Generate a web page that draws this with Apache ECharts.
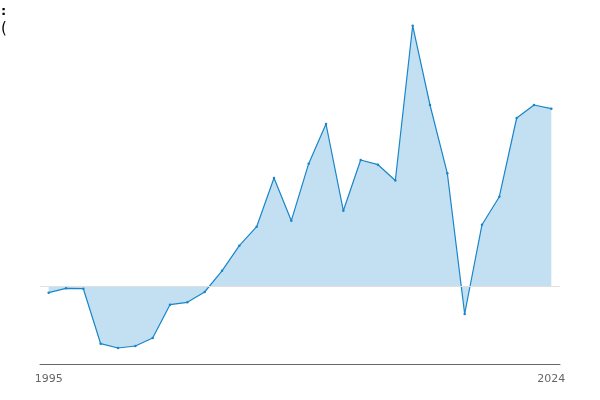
<!DOCTYPE html>
<html>
<head>
<meta charset="utf-8">
<script src="https://cdn.jsdelivr.net/npm/echarts@6/dist/echarts.min.js"></script>
<style>html,body{margin:0;padding:0;background:#fff}#c{width:600px;height:400px}</style>
</head>
<body>
<div id="c"></div>
<script>
var years = ['1995','1996','1997','1998','1999','2000','2001','2002','2003','2004','2005','2006','2007','2008','2009','2010','2011','2012','2013','2014','2015','2016','2017','2018','2019','2020','2021','2022','2023','2024'];
var values = [-0.67,-0.23,-0.27,-5.77,-6.2,-6.0,-5.2,-1.87,-1.63,-0.6,1.52,4.03,5.93,10.8,6.53,12.23,16.2,7.53,12.6,12.13,10.55,26.03,18.1,11.27,-2.8,6.13,8.93,16.8,18.1,17.73];

var chart = echarts.init(document.getElementById('c'));
chart.setOption({
  animation: false,
  grid: {left: 40, right: 40, top: 20, bottom: 36},
  graphic: [
    {type: 'text', left: 1, top: 5, style: {text: ':', font: 'bold 13px "DejaVu Sans"', fill: '#000'}},
    {type: 'text', left: 1, top: 22, style: {text: '(', font: '15px "DejaVu Sans"', fill: '#000'}}
  ],
  xAxis: {
    type: 'category',
    data: years,
    boundaryGap: true,
    axisLine: {onZero: false, lineStyle: {color: '#666', width: 1}},
    axisTick: {show: false},
    axisLabel: {
      color: '#666', fontSize: 11, fontFamily: 'DejaVu Sans', margin: 10,
      interval: function (i) { return i === 0 || i === years.length - 1; }
    },
    splitLine: {show: false}
  },
  yAxis: {
    type: 'value',
    min: -7.8, max: 26.6,
    axisLine: {show: false}, axisTick: {show: false}, axisLabel: {show: false},
    splitLine: {show: false}
  },
  series: [{
    type: 'line',
    data: values,
    symbol: 'circle',
    symbolSize: 2.5,
    itemStyle: {color: '#1a85c9'},
    lineStyle: {color: '#1a85c9', width: 1.2},
    areaStyle: {color: '#c2e0f2', opacity: 1, origin: 0},
    markLine: {
      silent: true, symbol: 'none', label: {show: false},
      lineStyle: {color: '#e0e0e0', width: 1, type: 'solid'},
      data: [{yAxis: 0}]
    },
    z: 2
  }]
});
</script>
</body>
</html>
